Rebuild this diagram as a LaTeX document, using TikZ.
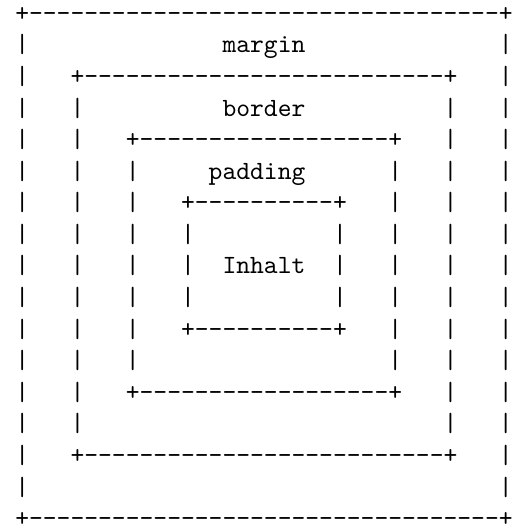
\documentclass[tikz,border=0pt]{standalone}
\usepackage{tikz}

\begin{document}
\begin{tikzpicture}[
        x=5.25pt, y=-12pt,
        glyph/.style={inner sep=0pt, outer sep=0pt, anchor=base west, font=\ttfamily},
        boxlabel/.style={glyph}
        ]
        \useasboundingbox (-5.8pt,8.1pt) rectangle (189.45pt,-192.9pt);

        % the four nested ascii boxes
        \foreach \k/\name in {0/margin, 1/border, 2/padding, 3/inhalt} {
            \pgfmathtruncatemacro{\colL}{4*\k}
            \pgfmathtruncatemacro{\colR}{35-4*\k}
            \pgfmathtruncatemacro{\rowT}{2*\k}
            \pgfmathtruncatemacro{\rowB}{16-2*\k}
            \pgfmathtruncatemacro{\colA}{\colL+1}
            \pgfmathtruncatemacro{\colZ}{\colR-1}
            \pgfmathtruncatemacro{\rowA}{\rowT+1}
            \pgfmathtruncatemacro{\rowZ}{\rowB-1}
            \node (\name-tl) [glyph] at (\colL,\rowT) {+};
            \node (\name-tr) [glyph] at (\colR,\rowT) {+};
            \node (\name-bl) [glyph] at (\colL,\rowB) {+};
            \node (\name-br) [glyph] at (\colR,\rowB) {+};
            \foreach \c in {\colA,...,\colZ} {
                \node (\name-top-\c) [glyph] at (\c,\rowT) {-};
                \node (\name-bot-\c) [glyph] at (\c,\rowB) {-};
            }
            \foreach \r in {\rowA,...,\rowZ} {
                \node (\name-left-\r) [glyph] at (\colL,\r) {|};
                \node (\name-right-\r) [glyph] at (\colR,\r) {|};
            }
        }

        % labels
        \node (margin-label) [boxlabel] at (15,1) {margin};
        \node (border-label) [boxlabel] at (15,3) {border};
        \node (padding-label) [boxlabel] at (14,5) {padding};
        \node (inhalt-label) [boxlabel] at (15,8) {Inhalt};

    \end{tikzpicture}
\end{document}
